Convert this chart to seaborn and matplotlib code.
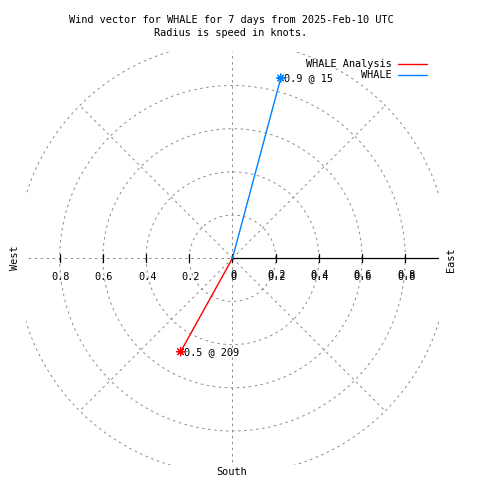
import numpy as np
import pandas as pd
import matplotlib
matplotlib.use("Agg")
import matplotlib.pyplot as plt
from matplotlib.lines import Line2D
import seaborn as sns

# wind vectors (speed in knots, direction in degrees clockwise from north)
series_names = ["WHALE Analysis", "WHALE"]
series_colors = ["#ff0000", "#0080ff"]
wind_speed = [0.495, 0.864]
wind_dir = [209, 15]

# polar grid
grid_radii = [0.2, 0.4, 0.6, 0.8, 1.0]
spoke_angles = [45, 135, 225, 315]

# radius axis ticks
left_ticks = [-0.8, -0.6, -0.4, -0.2]
left_labels = ["0.8", "0.6", "0.4", "0.2"]
right_ticks = [0, 0.2, 0.4, 0.6, 0.8]
right_labels = ["0", "0.2", "0.4", "0.6", "0.8"]

title_lines = ["Wind vector for WHALE for 7 days from 2025-Feb-10 UTC",
               "Radius is speed in knots."]

GRID = "#8c8c8c"
DASH = (0, (2.6, 3.6))
PX = 1 / 216.0  # data units per pixel


def fx(x):
    return x / 480.0


def fy(y):
    return 1 - y / 480.0


def drawGrid(ax):
    t = np.linspace(0, 2 * np.pi, 600)
    for r in grid_radii:
        ax.plot(r * np.cos(t), r * np.sin(t), color=GRID, lw=0.7, ls=DASH, zorder=1)
    for a in spoke_angles:
        rad = np.deg2rad(a)
        ax.plot([0, np.cos(rad)], [0, np.sin(rad)], color=GRID, lw=0.7, ls=DASH, zorder=1)
    ax.plot([0, 0], [-1, 1], color=GRID, lw=0.7, ls=DASH, zorder=1)
    ax.plot([-1, 0], [0, 0], color=GRID, lw=0.7, ls=DASH, zorder=1)
    # solid radius axis
    ax.plot([0, 1], [0, 0], color="black", lw=0.9, zorder=2)
    for t_ in left_ticks + right_ticks:
        ax.plot([t_, t_], [-4 * PX, 4 * PX], color="black", lw=0.9, zorder=2)
    for t_, lab in zip(left_ticks, left_labels):
        ax.text(t_ + PX, -0.087, lab, ha="center", va="center")
    # gnuplot draws the positive labels twice, slightly shifted
    for t_, lab in zip(right_ticks, right_labels):
        ax.text(t_ + PX, -0.087, lab, ha="center", va="center")
        ax.text(t_ + PX, -0.087 + 2 * PX, lab, ha="center", va="center")


def main():
    sns.set_style("white")
    plt.rcParams["font.family"] = ["DejaVu Sans Mono"]
    plt.rcParams["font.size"] = 7.4
    plt.rcParams["text.color"] = "black"

    fig = plt.figure(figsize=(4.8, 4.8), dpi=100)
    ax = fig.add_axes([fx(26), fy(464.5), (438.5 - 26) / 480, (464.5 - 52) / 480])
    ax.set_xlim(-0.956, 0.954)
    ax.set_ylim(-0.955, 0.955)
    ax.axis("off")

    drawGrid(ax)

    rad = np.deg2rad(wind_dir)
    tip_x = np.array(wind_speed) * np.sin(rad)
    tip_y = np.array(wind_speed) * np.cos(rad)

    rows = []
    for name, x, y in zip(series_names, tip_x, tip_y):
        rows.append({"series": name, "x": 0.0, "y": 0.0, "order": 0})
        rows.append({"series": name, "x": x, "y": y, "order": 1})
    vec = pd.DataFrame(rows)
    tips = vec[vec["order"] == 1]
    palette = dict(zip(series_names, series_colors))

    sns.lineplot(data=vec, x="x", y="y", hue="series", palette=palette, sort=False,
                 estimator=None, legend=False, lw=1, ax=ax, zorder=3)
    sns.scatterplot(data=tips, x="x", y="y", hue="series", palette=palette,
                    marker=(8, 2, 0), s=34, linewidth=0.8, legend=False, ax=ax, zorder=4)

    for x, y, s, d in zip(tip_x, tip_y, wind_speed, wind_dir):
        ax.annotate("%.1f @ %d" % (s, d), (x, y), xytext=(2.5, 0), textcoords="offset points",
                    ha="left", va="center")

    # legend, gnuplot style
    for i, (name, col) in enumerate(zip(series_names, series_colors)):
        ypx = 64.3 + 11 * i
        fig.text(fx(392), fy(ypx), name, ha="right", va="center")
        fig.add_artist(Line2D([fx(398), fx(427)], [fy(ypx), fy(ypx)], color=col, lw=1))

    fig.text(fx(231), fy(20), title_lines[0], ha="center", va="center")
    fig.text(fx(231), fy(33), title_lines[1], ha="center", va="center")

    fig.text(fx(15), fy(258), "West", rotation=90, ha="center", va="center")
    fig.text(fx(450.7), fy(260), "East", rotation=90, ha="center", va="center")
    fig.text(fx(231.7), fy(471.7), "South", ha="center", va="center")

    fig.savefig("out.png", dpi=100)


if __name__ == "__main__":
    main()
